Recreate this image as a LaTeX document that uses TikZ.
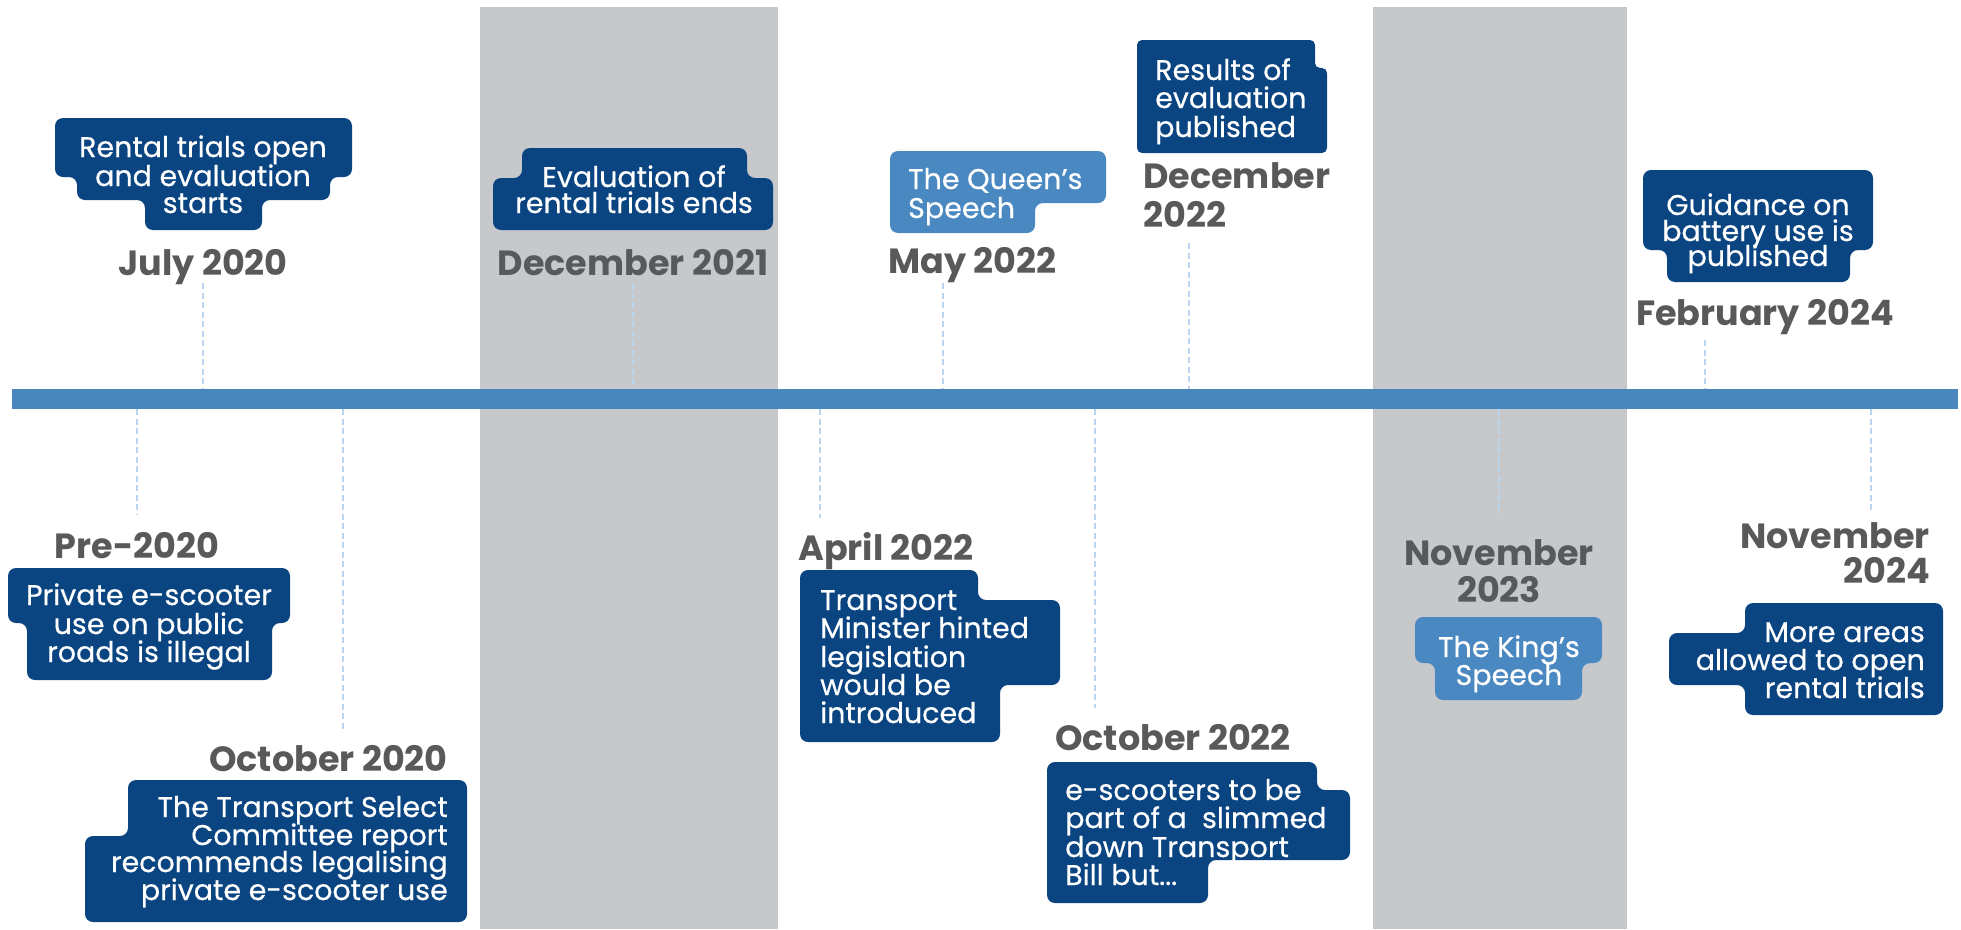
\documentclass[tikz,border=0pt]{standalone}
\usepackage{fontspec}
\setmainfont{Poppins}
\newfontfamily\boxfont{Poppins}[FakeBold=0.5]
\definecolor{navy}{HTML}{0A4582}
\definecolor{lblue}{HTML}{4A88C2}
\definecolor{barc}{HTML}{4A86BE}
\definecolor{dashc}{HTML}{BBD5EC}
\definecolor{band}{HTML}{C6C8CB}
\definecolor{dgrey}{HTML}{58595B}
\begin{document}
\begin{tikzpicture}[x=1pt,y=-1pt,
  navybox/.style={fill=navy, rounded corners=8pt},
  lightbox/.style={fill=lblue, rounded corners=8pt},
  txt/.style={text=white, inner sep=0pt, font=\boxfont\fontsize{28.5}{28}\selectfont},
  datetxt/.style={text=dgrey, inner sep=0pt, font=\fontsize{35}{39}\selectfont\bfseries},
  conn/.style={draw=dashc, line width=2pt, dash pattern=on 6pt off 3.5pt}]
\useasboundingbox (0,0) rectangle (1961,929);
\fill[white] (0,0) rectangle (1961,929);
% grey bands
\fill[band] (480,7) rectangle (778,929);
\fill[band] (1373,7) rectangle (1627,929);
% timeline bar
\fill[barc] (12,389) rectangle (1958,409);

% ---------------- connectors ----------------
\coordinate (c1a) at (203,283);  \coordinate (c1b) at (203,389);
\coordinate (c2a) at (633,283);  \coordinate (c2b) at (633,389);
\coordinate (c3a) at (943,283);  \coordinate (c3b) at (943,389);
\coordinate (c4a) at (1189,243); \coordinate (c4b) at (1189,389);
\coordinate (c5a) at (1705,340); \coordinate (c5b) at (1705,389);
\coordinate (d1a) at (137,409);  \coordinate (d1b) at (137,515);
\coordinate (d2a) at (343,409);  \coordinate (d2b) at (343,732);
\coordinate (d3a) at (820,409);  \coordinate (d3b) at (820,518);
\coordinate (d4a) at (1095,409); \coordinate (d4b) at (1095,708);
\coordinate (d5a) at (1499,409); \coordinate (d5b) at (1499,515);
\coordinate (d6a) at (1871,409); \coordinate (d6b) at (1871,513);
\foreach \p in {c1,c2,c3,c4,c5,d1,d2,d3,d4,d5,d6}{\draw[conn] (\p a) -- (\p b);}

% ---------------- top: July 2020 ----------------
\fill[navybox] (55,118) -- (352,118) -- (352,177) -- (330,177) -- (330,200) -- (262,200) -- (262,230) -- (145,230) -- (145,200) -- (77,200) -- (77,177) -- (55,177) -- cycle;
\node[txt, anchor=base] (a1) at (203,157) {Rental trials open};
\node[txt, anchor=base] (a2) at (203,186) {and evaluation};
\node[txt, anchor=base] (a3) at (203,213) {starts};
\node[datetxt, anchor=base] (da) at (203,275) {July 2020};

% ---------------- top: December 2021 ----------------
\fill[navybox] (522,148) -- (747,148) -- (747,178) -- (773,178) -- (773,230) -- (493,230) -- (493,178) -- (522,178) -- cycle;
\node[txt, anchor=base] (b1) at (634,187) {Evaluation of};
\node[txt, anchor=base] (b2) at (634,213) {rental trials ends};
\node[datetxt, anchor=base] (db) at (633,275) {December 2021};

% ---------------- top: May 2022 ----------------
\fill[lightbox] (890,151) -- (1106,151) -- (1106,203) -- (1035,203) -- (1035,233) -- (890,233) -- cycle;
\node[txt, anchor=base west] (q1) at (908,189) {The Queen’s};
\node[txt, anchor=base west] (q2) at (908,218) {Speech};
\node[datetxt, anchor=base west] (dq) at (888,273) {May 2022};

% ---------------- top: December 2022 ----------------
\fill[navy, rounded corners=5pt] (1137,40) -- (1315,40) -- (1315,68) -- (1327,68) -- (1327,153) -- (1137,153) -- cycle;
\node[txt, anchor=base west] (r1) at (1155,80) {Results of};
\node[txt, anchor=base west] (r2) at (1155,108) {evaluation};
\node[txt, anchor=base west] (r3) at (1155,137) {published};
\node[datetxt, anchor=base west] (dr1) at (1143,188) {December};
\node[datetxt, anchor=base west] (dr2) at (1143,227) {2022};

% ---------------- top: February 2024 ----------------
\fill[navybox] (1643,170) -- (1873,170) -- (1873,250) -- (1850,250) -- (1850,282) -- (1667,282) -- (1667,250) -- (1643,250) -- cycle;
\node[txt, anchor=base] (g1) at (1758,215) {Guidance on};
\node[txt, anchor=base] (g2) at (1758,241) {battery use is};
\node[txt, anchor=base] (g3) at (1758,266) {published};
\node[datetxt, anchor=base] (dg) at (1765,325) {February 2024};

% ---------------- bottom: Pre-2020 ----------------
\node[datetxt, anchor=base] (dp) at (137,558) {Pre-2020};
\fill[navybox] (8,568) -- (290,568) -- (290,623) -- (272,623) -- (272,680) -- (27,680) -- (27,623) -- (8,623) -- cycle;
\node[txt, anchor=base] (p1) at (149,605) {Private e-scooter};
\node[txt, anchor=base] (p2) at (149,634) {use on public};
\node[txt, anchor=base] (p3) at (149,662) {roads is illegal};

% ---------------- bottom: October 2020 ----------------
\node[datetxt, anchor=base east] (do) at (448,771) {October 2020};
\fill[navybox] (128,780) -- (467,780) -- (467,922) -- (85,922) -- (85,836) -- (128,836) -- cycle;
\node[txt, anchor=base east] (o1) at (448,817) {The Transport Select};
\node[txt, anchor=base east] (o2) at (448,845) {Committee report};
\node[txt, anchor=base east] (o3) at (448,872) {recommends legalising};
\node[txt, anchor=base east] (o4) at (448,900) {private e-scooter use};

% ---------------- bottom: April 2022 ----------------
\node[datetxt, anchor=base west] (dm) at (798,560) {April 2022};
\fill[navybox] (800,570) -- (978,570) -- (978,600) -- (1060,600) -- (1060,685) -- (1000,685) -- (1000,742) -- (800,742) -- cycle;
\node[txt, anchor=base west] (m1) at (820,610) {Transport};
\node[txt, anchor=base west] (m2) at (820,638) {Minister hinted};
\node[txt, anchor=base west] (m3) at (820,667) {legislation};
\node[txt, anchor=base west] (m4) at (820,695) {would be};
\node[txt, anchor=base west] (m5) at (820,723) {introduced};

% ---------------- bottom: October 2022 ----------------
\node[datetxt, anchor=base west] (de) at (1055,750) {October 2022};
\fill[navybox] (1047,762) -- (1317,762) -- (1317,790) -- (1350,790) -- (1350,860) -- (1208,860) -- (1208,903) -- (1047,903) -- cycle;
\node[txt, anchor=base west] (e1) at (1065,800) {e-scooters to be};
\node[txt, anchor=base west] (e2) at (1065,828) {part of a\ \ slimmed};
\node[txt, anchor=base west] (e3) at (1065,857) {down Transport};
\node[txt, anchor=base west] (e4) at (1065,885) {Bill but...};

% ---------------- bottom: November 2023 ----------------
\node[datetxt, anchor=base] (dk1) at (1499,565) {November};
\node[datetxt, anchor=base] (dk2) at (1499,602) {2023};
\fill[lightbox] (1415,617) -- (1602,617) -- (1602,663) -- (1582,663) -- (1582,700) -- (1435,700) -- (1435,663) -- (1415,663) -- cycle;
\node[txt, anchor=base] (k1) at (1509,657) {The King’s};
\node[txt, anchor=base] (k2) at (1509,685) {Speech};

% ---------------- bottom: November 2024 ----------------
\node[datetxt, anchor=base east] (dn1) at (1930,548) {November};
\node[datetxt, anchor=base east] (dn2) at (1930,583) {2024};
\fill[navybox] (1745,603) -- (1943,603) -- (1943,715) -- (1745,715) -- (1745,685) -- (1669,685) -- (1669,633) -- (1745,633) -- cycle;
\node[txt, anchor=base east] (n1) at (1925,642) {More areas};
\node[txt, anchor=base east] (n2) at (1925,670) {allowed to open};
\node[txt, anchor=base east] (n3) at (1925,698) {rental trials};
\end{tikzpicture}
\end{document}
